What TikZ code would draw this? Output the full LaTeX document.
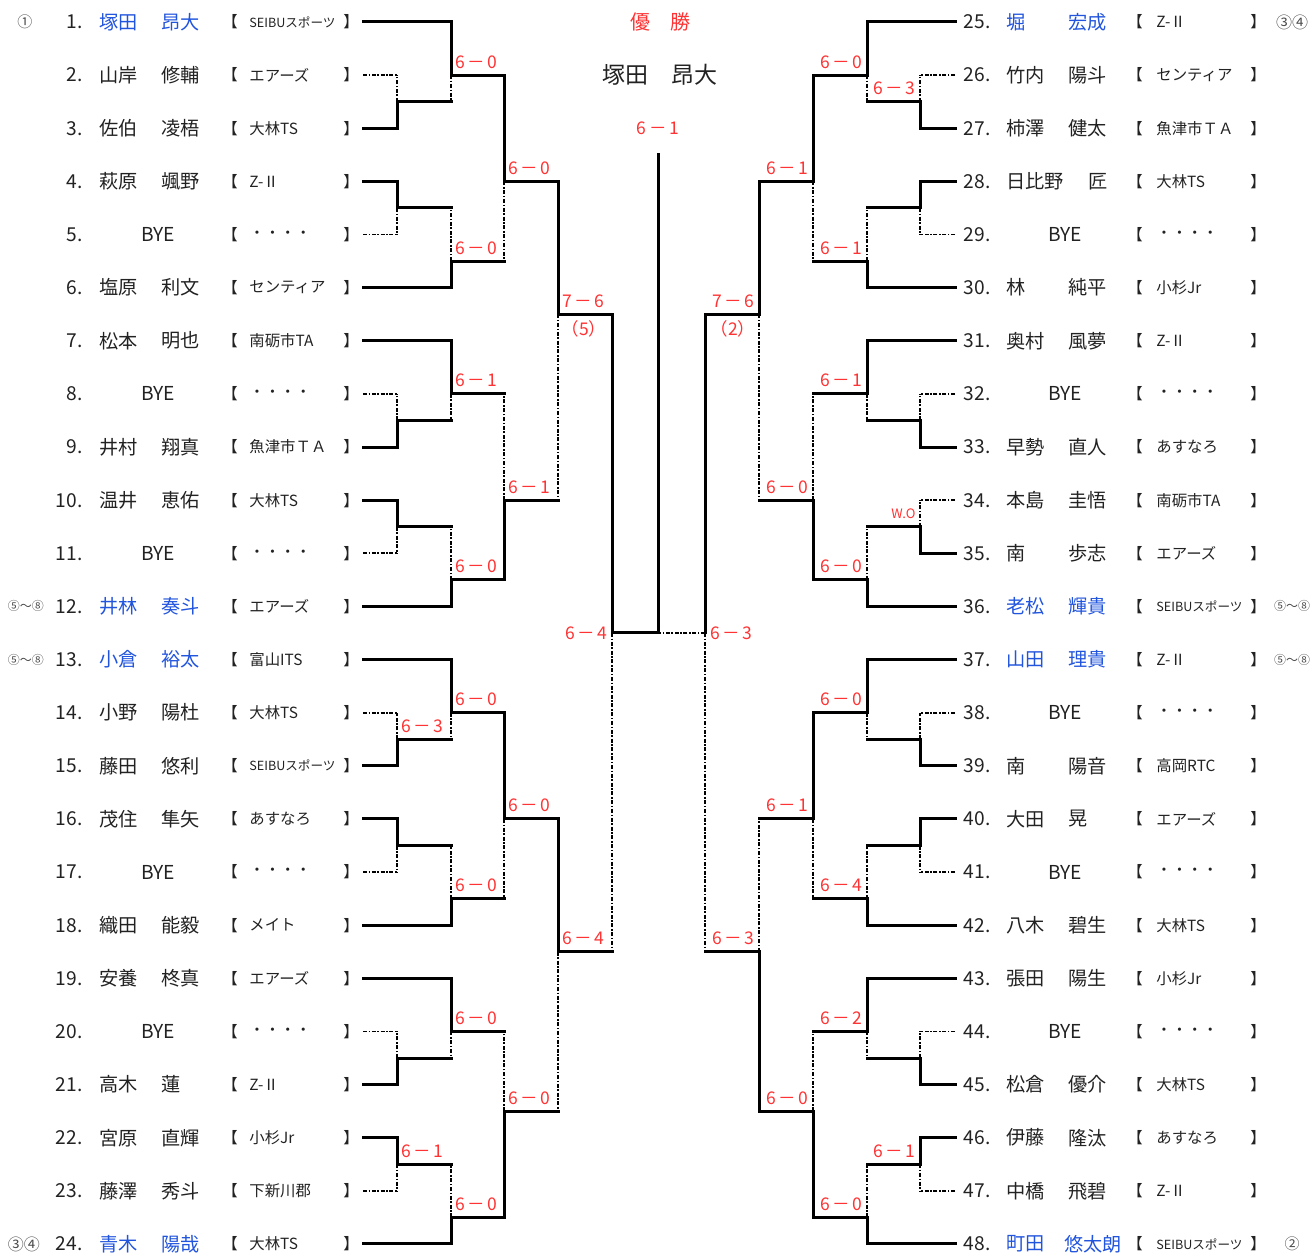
\documentclass[tikz,border=0pt]{standalone}
\usepackage{fontspec}
\setmainfont{Noto Sans CJK JP}
\usetikzlibrary{positioning}
\definecolor{scorered}{RGB}{255,51,51}
\definecolor{nameblue}{RGB}{34,85,221}
\definecolor{ink}{RGB}{34,34,34}
\newcommand\seibu{{\fontsize{6.3}{7}\selectfont SEIBUスポーツ}}
\newcommand\gs[2]{#1\kern1.3pt－\kern1.3pt#2}
% column, next column, winner row, loser row, out row
\newcommand\bout[5]{%
  \draw[win] (#1,#3) |- (#2,#5);
  \draw[lose] (#1,#5) -- (#1,#4);}
\newcommand\scoreL[4]{\node[score, anchor=west] (#1) at (#2+4,#3-0.25) {#4};}
\newcommand\scoreR[4]{\node[score, anchor=east] (#1) at (#2-4,#3-0.25) {#4};}
\begin{document}
\begin{tikzpicture}[x=0.5pt, y=-26.565pt,
    win/.style={line width=1.5pt, line cap=rect},
    lose/.style={line width=0.9pt, dash pattern=on 2pt off 0.8pt on 0.8pt off 0.8pt},
    txt/.style={inner sep=0pt, text=ink, font=\fontsize{9.6}{11}\selectfont},
    team/.style={inner sep=0pt, anchor=west, text=ink, font=\fontsize{7.7}{9}\selectfont},
    score/.style={inner sep=0pt, text=scorered, font=\fontsize{8.75}{10}\selectfont},
    rank/.style={inner sep=0pt, text=black!70, font=\fontsize{7.5}{9}\selectfont}]
\useasboundingbox (0,0.586) rectangle (1314,24.188);

% left players
\foreach \n/\sn/\gn/\tm/\cl in {1/塚田/昂大/\seibu/nameblue, 2/山岸/修輔/エアーズ/ink,
    3/佐伯/凌梧/大林TS/ink, 4/萩原/颯野/Z-Ⅱ/ink, 6/塩原/利文/センティア/ink,
    7/松本/明也/南砺市TA/ink, 9/井村/翔真/魚津市ＴＡ/ink, 10/温井/恵佑/大林TS/ink,
    12/井林/奏斗/エアーズ/nameblue, 13/小倉/裕太/富山ITS/nameblue, 14/小野/陽杜/大林TS/ink,
    15/藤田/悠利/\seibu/ink, 16/茂住/隼矢/あすなろ/ink, 18/織田/能毅/メイト/ink,
    19/安養/柊真/エアーズ/ink, 21/高木/蓮/Z-Ⅱ/ink, 22/宮原/直輝/小杉Jr/ink,
    23/藤澤/秀斗/下新川郡/ink, 24/青木/陽哉/大林TS/nameblue}{
  \node[txt, anchor=west, text=\cl] (snL\n) at (99,\n) {\sn};
  \node[txt, anchor=west, text=\cl] (gnL\n) at (161,\n) {\gn};
  \node[team] (tmL\n) at (249,\n) {\tm};
}
\foreach \n in {5,8,11,17,20}{
  \node[txt] (byL\n) at (158,\n) {BYE};
  \node[team] (tmL\n) at (249,\n) {・・・・};
}
\foreach \n in {1,...,24}{
  \node[txt, anchor=east] (noL\n) at (83,\n) {\n.};
  \node[team] (obL\n) at (222,\n) {【};
  \node[team] (cbL\n) at (343,\n) {】};
}

% right players
\foreach \n/\sn/\gn/\tm/\cl in {25/堀/宏成/Z-Ⅱ/nameblue, 26/竹内/陽斗/センティア/ink,
    27/柿澤/健太/魚津市ＴＡ/ink, 28/日比野/{\hspace*{10pt}匠}/大林TS/ink, 30/林/純平/小杉Jr/ink,
    31/奥村/風夢/Z-Ⅱ/ink, 33/早勢/直人/あすなろ/ink, 34/本島/圭悟/南砺市TA/ink,
    35/南/歩志/エアーズ/ink, 36/老松/輝貴/\seibu/nameblue, 37/山田/理貴/Z-Ⅱ/nameblue,
    39/南/陽音/高岡RTC/ink, 40/大田/晃/エアーズ/ink, 42/八木/碧生/大林TS/ink,
    43/張田/陽生/小杉Jr/ink, 45/松倉/優介/大林TS/ink, 46/伊藤/隆汰/あすなろ/ink,
    47/中橋/飛碧/Z-Ⅱ/ink, 48/町田/{\kern-2pt 悠太朗}/\seibu/nameblue}{
  \node[txt, anchor=west, text=\cl] (snR\n) at (1006,\n-24) {\sn};
  \node[txt, anchor=west, text=\cl] (gnR\n) at (1068,\n-24) {\gn};
  \node[team] (tmR\n) at (1156,\n-24) {\tm};
}
\foreach \n in {29,32,38,41,44}{
  \node[txt] (byR\n) at (1065,\n-24) {BYE};
  \node[team] (tmR\n) at (1156,\n-24) {・・・・};
}
\foreach \n in {25,...,48}{
  \node[txt, anchor=east] (noR\n) at (991,\n-24) {\n.};
  \node[team] (obR\n) at (1127,\n-24) {【};
  \node[team] (cbR\n) at (1250,\n-24) {】};
}

% ranks
\node[rank] (rkL1) at (25,1) {①};
\node[rank, font=\fontsize{6}{7}\selectfont] (rkL12) at (26,12) {⑤～⑧};
\node[rank, font=\fontsize{6}{7}\selectfont] (rkL13) at (26,13) {⑤～⑧};
\node[rank, font=\fontsize{8}{9}\selectfont] (rkL24) at (24,24) {③④};
\node[rank, font=\fontsize{8}{9}\selectfont] (rkR25) at (1292,1) {③④};
\node[rank, font=\fontsize{6}{7}\selectfont] (rkR36) at (1292,12) {⑤～⑧};
\node[rank, font=\fontsize{6}{7}\selectfont] (rkR37) at (1292,13) {⑤～⑧};
\node[rank] (rkR48) at (1292,24) {②};

% left entry lines
\foreach \r in {1,6,7,12,13,18,19,24} \draw[win] (363,\r) -- (451,\r);
\foreach \r in {3,4,9,10,15,16,21,22} \draw[win] (363,\r) -- (397,\r);
\foreach \r in {2,5,8,11,14,17,20,23} \draw[lose] (363,\r) -- (397,\r);
% right entry lines
\foreach \r in {1,6,7,12,13,18,19,24} \draw[win] (955,\r) -- (867,\r);
\foreach \r in {3,4,9,11,15,16,21,22} \draw[win] (955,\r) -- (920,\r);
\foreach \r in {2,5,8,10,14,17,20,23} \draw[lose] (955,\r) -- (920,\r);

% left bracket
\bout{397}{451}{3}{2}{2.5}
\bout{397}{451}{4}{5}{4.5}
\bout{397}{451}{9}{8}{8.5}
\bout{397}{451}{10}{11}{10.5}
\bout{397}{451}{15}{14}{14.5}
\bout{397}{451}{16}{17}{16.5}
\bout{397}{451}{21}{20}{20.5}
\bout{397}{451}{22}{23}{22.5}
\bout{451}{504}{1}{2.5}{2}
\bout{451}{504}{6}{4.5}{5.5}
\bout{451}{504}{7}{8.5}{8}
\bout{451}{504}{12}{10.5}{11.5}
\bout{451}{504}{13}{14.5}{14}
\bout{451}{504}{18}{16.5}{17.5}
\bout{451}{504}{19}{20.5}{20}
\bout{451}{504}{24}{22.5}{23.5}
\bout{504}{558}{2}{5.5}{4}
\bout{504}{558}{11.5}{8}{10}
\bout{504}{558}{14}{17.5}{16}
\bout{504}{558}{23.5}{20}{21.5}
\bout{558}{612}{4}{10}{6.5}
\bout{558}{612}{16}{21.5}{18.5}
\bout{612}{658}{6.5}{18.5}{12.5}

% right bracket
\bout{920}{867}{3}{2}{2.5}
\bout{920}{867}{4}{5}{4.5}
\bout{920}{867}{9}{8}{8.5}
\bout{920}{867}{11}{10}{10.5}
\bout{920}{867}{15}{14}{14.5}
\bout{920}{867}{16}{17}{16.5}
\bout{920}{867}{21}{20}{20.5}
\bout{920}{867}{22}{23}{22.5}
\bout{867}{813}{1}{2.5}{2}
\bout{867}{813}{6}{4.5}{5.5}
\bout{867}{813}{7}{8.5}{8}
\bout{867}{813}{12}{10.5}{11.5}
\bout{867}{813}{13}{14.5}{14}
\bout{867}{813}{18}{16.5}{17.5}
\bout{867}{813}{19}{20.5}{20}
\bout{867}{813}{24}{22.5}{23.5}
\bout{813}{759}{2}{5.5}{4}
\bout{813}{759}{11.5}{8}{10}
\bout{813}{759}{14}{17.5}{16}
\bout{813}{759}{23.5}{20}{21.5}
\bout{759}{705}{4}{10}{6.5}
\bout{759}{705}{21.5}{16}{18.5}
\draw[win] (705,6.5) -- (705,12.5);
\draw[lose] (705,12.5) -- (705,18.5);
\draw[lose] (705,12.5) -- (658,12.5);

% final
\draw[win] (658,3.5) -- (658,12.5);
\node[txt, text=scorered, font=\fontsize{10}{12}\selectfont] (title) at (660,1) {優　勝};
\node[txt, font=\fontsize{11.5}{13}\selectfont] (champ) at (660,2) {塚田　昂大};
\node[score] (scF) at (658,3) {\gs61};

% left scores
\scoreL{sL1}{397}{14.5}{\gs63}
\scoreL{sL2}{397}{22.5}{\gs61}
\scoreL{sL3}{451}{2}{\gs60}
\scoreL{sL4}{451}{5.5}{\gs60}
\scoreL{sL5}{451}{8}{\gs61}
\scoreL{sL6}{451}{11.5}{\gs60}
\scoreL{sL7}{451}{14}{\gs60}
\scoreL{sL8}{451}{17.5}{\gs60}
\scoreL{sL9}{451}{20}{\gs60}
\scoreL{sL10}{451}{23.5}{\gs60}
\scoreL{sL11}{504}{4}{\gs60}
\scoreL{sL12}{504}{10}{\gs61}
\scoreL{sL13}{504}{16}{\gs60}
\scoreL{sL14}{504}{21.5}{\gs60}
\scoreL{sL15}{558}{6.5}{\gs76}
\node[score] (tbL) at (584,6.77) {（5）};
\scoreL{sL16}{558}{18.5}{\gs64}
\node[score, anchor=east] (sL17) at (608,12.5) {\gs64};

% right scores
\scoreR{sR1}{920}{2.5}{\gs63}
\scoreR{sR2}{920}{10.5}{\fontsize{6.5}{7}\selectfont W.O}
\scoreR{sR3}{920}{22.5}{\gs61}
\scoreR{sR4}{867}{2}{\gs60}
\scoreR{sR5}{867}{5.5}{\gs61}
\scoreR{sR6}{867}{8}{\gs61}
\scoreR{sR7}{867}{11.5}{\gs60}
\scoreR{sR8}{867}{14}{\gs60}
\scoreR{sR9}{867}{17.5}{\gs64}
\scoreR{sR10}{867}{20}{\gs62}
\scoreR{sR11}{867}{23.5}{\gs60}
\scoreR{sR12}{813}{4}{\gs61}
\scoreR{sR13}{813}{10}{\gs60}
\scoreR{sR14}{813}{16}{\gs61}
\scoreR{sR15}{813}{21.5}{\gs60}
\scoreR{sR16}{759}{6.5}{\gs76}
\node[score] (tbR) at (733,6.77) {（2）};
\scoreR{sR17}{759}{18.5}{\gs63}
\node[score, anchor=west] (sR18) at (710,12.5) {\gs63};
\end{tikzpicture}
\end{document}
